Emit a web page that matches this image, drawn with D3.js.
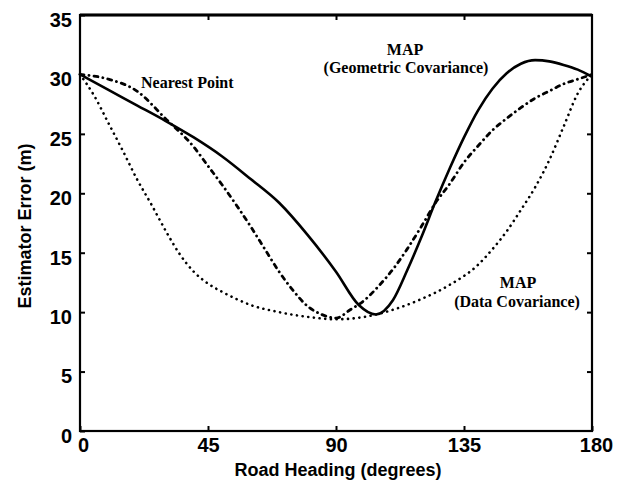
<!DOCTYPE html>
<html lang="en">
<head>
    <meta charset="utf-8">
    <title>Estimator Error vs Road Heading</title>
    <script src="https://d3js.org/d3.v7.min.js"></script>
    <style>
        body { margin: 0; background: #fff; }
        .tick text { font-family: "Liberation Sans", Arial, sans-serif; font-weight: bold; }
        .note { font-family: "Liberation Serif", "Times New Roman", serif; font-weight: bold; font-size: 16px; }
        .title { font-family: "Liberation Sans", Arial, sans-serif; font-weight: bold; font-size: 18px; }
    </style>
</head>
<body>
<svg id="chart"></svg>
<script>
    // MAP (geometric covariance) - solid line
    const geoHeading = [0, 10, 20, 30, 40, 50, 60, 70, 80, 90, 98, 104, 110, 115, 120, 125, 130, 135, 140, 145, 150, 155, 160, 165, 170, 175, 180];
    const geoError   = [30, 28.7, 27.4, 26.1, 24.7, 23.1, 21.2, 19.2, 16.5, 13.4, 10.6, 9.8, 11.0, 13.5, 16.3, 19.3, 22.1, 24.7, 27.0, 28.8, 30.1, 30.9, 31.2, 31.1, 30.8, 30.4, 29.8];

    // Nearest point - dash-dot line
    const nearHeading = [0, 10, 20, 30, 40, 45, 50, 55, 60, 65, 70, 75, 80, 85, 90, 95, 100, 105, 110, 115, 120, 125, 130, 135, 140, 145, 150, 155, 160, 165, 170, 175, 180];
    const nearError   = [30, 29.6, 28.6, 26.3, 23.9, 22.3, 20.7, 19.0, 17.2, 15.3, 13.4, 11.8, 10.5, 9.8, 9.5, 10.2, 11.0, 12.2, 13.6, 15.3, 17.2, 19.2, 20.8, 22.6, 24.0, 25.3, 26.3, 27.2, 28.0, 28.6, 29.2, 29.6, 30];

    // MAP (data covariance) - dotted line
    const dataHeading = [0, 5, 10, 15, 20, 25, 30, 35, 40, 45, 50, 55, 60, 70, 80, 90, 100, 110, 120, 130, 140, 145, 150, 155, 160, 165, 170, 175, 180];
    const dataError   = [30, 28.2, 25.9, 23.6, 21.2, 19.1, 16.9, 14.9, 13.4, 12.4, 11.7, 11.1, 10.6, 10.0, 9.6, 9.4, 9.6, 10.2, 11.1, 12.3, 14.0, 15.3, 16.8, 18.6, 20.5, 22.8, 25.6, 28.4, 30];

    const xTicks = [0, 45, 90, 135, 180];
    const yTicks = [0, 5, 10, 15, 20, 25, 30, 35];

    const width = 621, height = 486;
    const margin = {left: 80, right: 592, top: 15, bottom: 431};

    const svg = d3.select("#chart")
        .attr("width", width)
        .attr("height", height);

    const x = d3.scaleLinear().domain([0, 180]).range([margin.left, margin.right]);
    const y = d3.scaleLinear().domain([0, 35]).range([margin.bottom, margin.top]);

    // frame
    svg.append("rect")
        .attr("x", margin.left).attr("y", margin.top)
        .attr("width", margin.right - margin.left).attr("height", margin.bottom - margin.top)
        .attr("fill", "none").attr("stroke", "#000").attr("stroke-width", 2.2);
    svg.append("line")
        .attr("x1", margin.left).attr("x2", margin.right)
        .attr("y1", margin.top).attr("y2", margin.top)
        .attr("stroke", "#000").attr("stroke-width", 3);

    // axes, ticks point inward
    let yAxis = svg.append("g")
        .attr("transform", `translate(${margin.left},0)`)
        .call(d3.axisLeft(y).tickValues(yTicks).tickSize(-5).tickPadding(8));
    yAxis.selectAll("text").attr("font-size", 20).attr("y", 5);
    yAxis.select(".domain").remove();

    svg.append("g")
        .attr("transform", `translate(${margin.right},0)`)
        .call(d3.axisRight(y).tickValues(yTicks.slice(1, -1)).tickSize(-5).tickFormat(""))
        .select(".domain").remove();

    let xAxis = svg.append("g")
        .attr("transform", `translate(0,${margin.bottom})`)
        .call(d3.axisBottom(x).tickValues(xTicks).tickSize(-5).tickPadding(7));
    xAxis.selectAll("text").attr("font-size", 20);
    xAxis.selectAll(".tick text").filter(d => d === 0).attr("x", 3);
    xAxis.selectAll(".tick text").filter(d => d === 180).attr("x", 4);
    xAxis.select(".domain").remove();

    svg.append("g")
        .attr("transform", `translate(0,${margin.top})`)
        .call(d3.axisTop(x).tickValues(xTicks.slice(1, -1)).tickSize(-5).tickFormat(""))
        .select(".domain").remove();

    svg.selectAll(".tick line").attr("stroke-width", 2);

    // titles
    svg.append("text").attr("class", "title")
        .attr("x", 338).attr("y", 476)
        .attr("text-anchor", "middle")
        .text("Road Heading (degrees)");
    svg.append("text").attr("class", "title")
        .attr("transform", "translate(31,226) rotate(-90)")
        .attr("text-anchor", "middle")
        .attr("font-size", 19)
        .text("Estimator Error (m)");

    // curves
    const line = d3.line()
        .x(d => x(d[0]))
        .y(d => y(d[1]))
        .curve(d3.curveMonotoneX);

    const plot = svg.append("g").attr("fill", "none").attr("stroke", "#000");

    plot.append("path")
        .datum(d3.zip(dataHeading, dataError))
        .attr("d", line)
        .attr("stroke-width", 2.6)
        .attr("stroke-linecap", "round")
        .attr("stroke-dasharray", "0.1 5.6");

    plot.append("path")
        .datum(d3.zip(nearHeading, nearError))
        .attr("d", line)
        .attr("stroke-width", 2.8)
        .attr("stroke-linecap", "round")
        .attr("stroke-dasharray", "4 5 0.1 5");

    plot.append("path")
        .datum(d3.zip(geoHeading, geoError))
        .attr("d", line)
        .attr("stroke-width", 2.6);

    // annotations
    svg.append("text").attr("class", "note")
        .attr("x", 141).attr("y", 88)
        .text("Nearest Point");
    svg.append("text").attr("class", "note")
        .attr("x", 405).attr("y", 55).attr("text-anchor", "middle")
        .text("MAP");
    svg.append("text").attr("class", "note")
        .attr("x", 406).attr("y", 73).attr("text-anchor", "middle")
        .text("(Geometric Covariance)");
    svg.append("text").attr("class", "note")
        .attr("x", 518).attr("y", 288).attr("text-anchor", "middle")
        .text("MAP");
    svg.append("text").attr("class", "note")
        .attr("x", 517).attr("y", 307).attr("text-anchor", "middle")
        .text("(Data Covariance)");
</script>
</body>
</html>
